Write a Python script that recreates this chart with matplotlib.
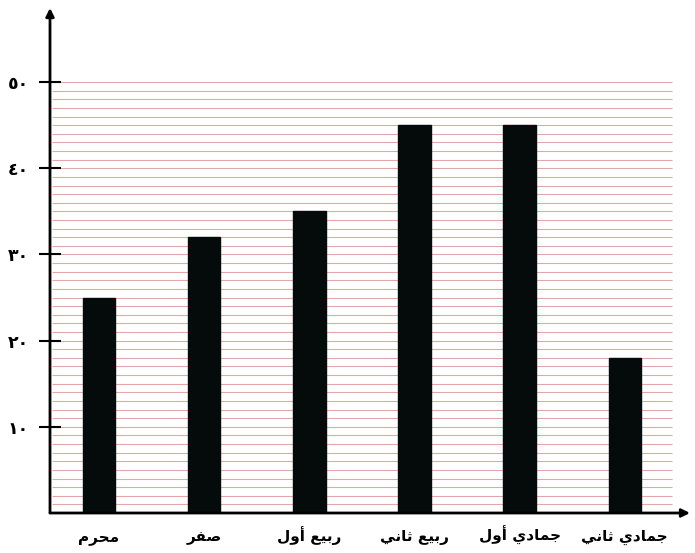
import matplotlib
matplotlib.use("Agg")
import matplotlib.pyplot as plt

# ---- data ----
categories = ["محرم", "صفر", "ربيع أول", "ربيع ثاني", "جمادي أول", "جمادي ثاني"]
values = [25, 32, 35, 45, 45, 18]
y_ticks = [10, 20, 30, 40, 50]
y_tick_labels = ["١٠", "٢٠", "٣٠", "٤٠", "٥٠"]

# ---- minimal Arabic shaping (presentation forms) ----
# letter: (isolated, final, initial, medial) ; None => does not join forward
FORMS = {
    "ا": ("\uFE8D", "\uFE8E", None, None),
    "أ": ("\uFE83", "\uFE84", None, None),
    "ب": ("\uFE8F", "\uFE90", "\uFE91", "\uFE92"),
    "ث": ("\uFE99", "\uFE9A", "\uFE9B", "\uFE9C"),
    "ج": ("\uFE9D", "\uFE9E", "\uFE9F", "\uFEA0"),
    "ح": ("\uFEA1", "\uFEA2", "\uFEA3", "\uFEA4"),
    "د": ("\uFEA9", "\uFEAA", None, None),
    "ر": ("\uFEAD", "\uFEAE", None, None),
    "ص": ("\uFEB9", "\uFEBA", "\uFEBB", "\uFEBC"),
    "ع": ("\uFEC9", "\uFECA", "\uFECB", "\uFECC"),
    "ف": ("\uFED1", "\uFED2", "\uFED3", "\uFED4"),
    "ل": ("\uFEDD", "\uFEDE", "\uFEDF", "\uFEE0"),
    "م": ("\uFEE1", "\uFEE2", "\uFEE3", "\uFEE4"),
    "ن": ("\uFEE5", "\uFEE6", "\uFEE7", "\uFEE8"),
    "و": ("\uFEED", "\uFEEE", None, None),
    "ي": ("\uFEF1", "\uFEF2", "\uFEF3", "\uFEF4"),
}


def shape(text):
    out = []
    for i, ch in enumerate(text):
        if ch not in FORMS:
            out.append(ch)
            continue
        prev = text[i - 1] if i > 0 else ""
        nxt = text[i + 1] if i + 1 < len(text) else ""
        join_prev = prev in FORMS and FORMS[prev][2] is not None
        join_next = nxt in FORMS and FORMS[ch][2] is not None
        iso, fin, ini, med = FORMS[ch]
        if join_prev and join_next:
            out.append(med)
        elif join_prev:
            out.append(fin)
        elif join_next:
            out.append(ini)
        else:
            out.append(iso)
    return "".join(out)[::-1]


plt.rcParams["font.family"] = ["DejaVu Sans"]

fig = plt.figure(figsize=(6.95, 5.53), dpi=100)
ax = fig.add_axes([50 / 695, 40 / 553, 640 / 695, 505 / 553])

x = list(range(len(categories)))

# red ruled lines
for yv in range(1, 51):
    ax.hlines(yv, -0.45, 5.45, color="#e3a7a7", linewidth=0.8, zorder=1)

ax.bar(x, values, width=0.31, color="#050a0a", edgecolor="#050a0a", zorder=3)

ax.set_xlim(-0.466, 5.62)
ax.set_ylim(0, 58.6)

for s in ax.spines.values():
    s.set_visible(False)

# axes with arrows
ax.annotate("", xy=(0, 1), xytext=(0, 0), xycoords="axes fraction",
            arrowprops=dict(arrowstyle="-|>", color="black", lw=2,
                            mutation_scale=12, shrinkA=0, shrinkB=0), zorder=5)
ax.annotate("", xy=(1, 0), xytext=(0, 0), xycoords="axes fraction",
            arrowprops=dict(arrowstyle="-|>", color="black", lw=2,
                            mutation_scale=12, shrinkA=0, shrinkB=0), zorder=5)

ax.set_yticks(y_ticks)
ax.set_yticklabels(y_tick_labels, fontsize=12.5, fontweight="bold")
ax.tick_params(axis="y", direction="inout", length=16, width=1.5, pad=7)

ax.set_xticks(x)
ax.set_xticklabels([shape(c) for c in categories], fontsize=11, fontweight="bold",
                   va="baseline")
ax.tick_params(axis="x", length=0, pad=20)

fig.savefig("out.png", dpi=100, facecolor="white")
